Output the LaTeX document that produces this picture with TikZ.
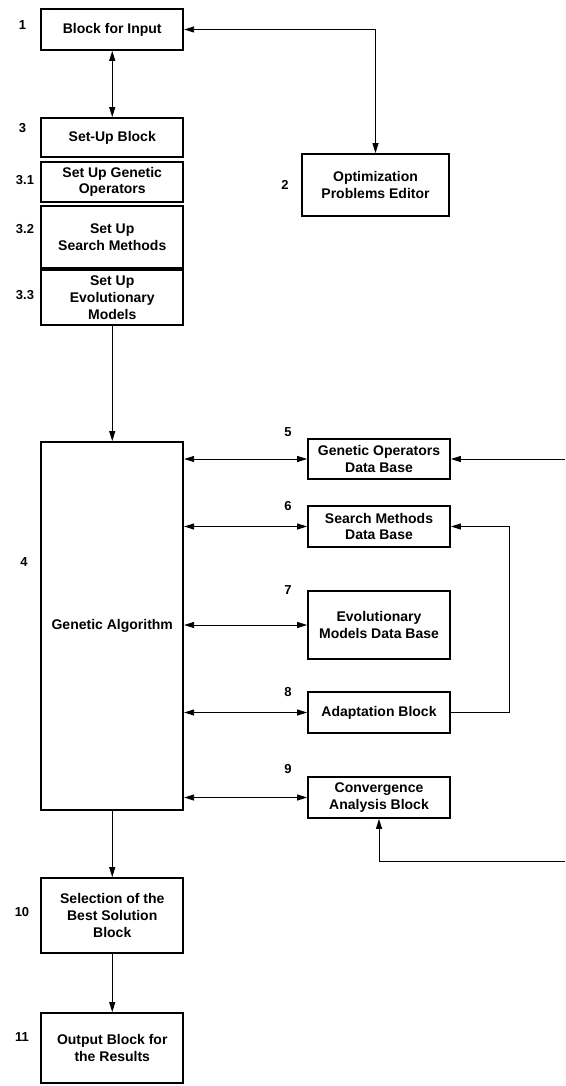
\documentclass[tikz,border=0pt]{standalone}
\usepackage{fontspec}
\setmainfont{Liberation Sans}
\usetikzlibrary{arrows.meta,positioning,calc}
\tikzset{
    block/.style={
        rectangle,                 % plain rectangular block
        draw=black,
        line width=1.8pt,          % heavy frame
        fill=white,
        inner sep=0pt,
        align=center,
        minimum width=142pt,       % every block has the same width
        font=\bfseries\fontsize{14}{16.7}\selectfont
    },
    tag/.style={
        font=\bfseries\fontsize{13}{15}\selectfont,
        inner sep=0pt
    }
}

\begin{document}
\begin{tikzpicture}[
        x=1pt, y=-1pt,
        arrow/.style={-{Triangle[length=10pt,width=6pt]}, line width=0.9pt},
        biarrow/.style={{Triangle[length=10pt,width=6pt]}-{Triangle[length=10pt,width=6pt]}, line width=0.9pt}
    ]
    \useasboundingbox (0,0) rectangle (565,1086);

    % left column
    \node[block, minimum height=41pt] (input) at (112.25,29.5) {Block for Input};
    \node[block, minimum height=39pt] (setup) at (112.25,137.5) {Set-Up Block};
    \node[block, minimum height=40pt] (setgen) at (112.25,182) {Set Up Genetic\\Operators};
    \node[block, minimum height=62pt] (setsearch) at (112.25,237) {Set Up\\Search Methods};
    \node[block, minimum height=55pt] (setevol) at (112.25,297.5) {Set Up\\Evolutionary\\Models};
    \node[block, minimum height=368pt] (ga) at (112.25,626) {Genetic Algorithm};
    \node[block, minimum height=75pt] (select) at (112.25,915.5) {Selection of the\\Best Solution\\Block};
    \node[block, minimum height=70pt] (output) at (112.25,1048) {Output Block for\\the Results};

    % right column
    \node[block, minimum width=147pt, minimum height=62pt] (editor) at (375.5,185) {Optimization\\Problems Editor};
    \node[block, minimum height=40pt] (gobase) at (379,459) {Genetic Operators\\Data Base};
    \node[block, minimum height=41pt] (smbase) at (379,526.5) {Search Methods\\Data Base};
    \node[block, minimum height=68pt] (evbase) at (379,625) {Evolutionary\\Models Data Base};
    \node[block, minimum height=41pt] (adapt) at (379,712.5) {Adaptation Block};
    \node[block, minimum height=41pt] (conv) at (379,797.5) {Convergence\\Analysis Block};

    % numbers
    \node[tag] (lbl1) at (22.5,25) {1};
    \node[tag] (lbl2) at (285,185) {2};
    \node[tag] (lbl3) at (22.5,128) {3};
    \node[tag] (lbl31) at (25,180) {3.1};
    \node[tag] (lbl32) at (25,229) {3.2};
    \node[tag] (lbl33) at (25,295) {3.3};
    \node[tag] (lbl4) at (24,562) {4};
    \node[tag] (lbl5) at (288,432) {5};
    \node[tag] (lbl6) at (288,506) {6};
    \node[tag] (lbl7) at (288,590) {7};
    \node[tag] (lbl8) at (288,692) {8};
    \node[tag] (lbl9) at (288,769) {9};
    \node[tag] (lbl10) at (22,912) {10};
    \node[tag] (lbl11) at (22,1037) {11};

    % inputs coming from outside
    \coordinate (feedtop) at (565,459);
    \coordinate (feedbot) at (565,861);

    \draw[biarrow] (input) -- (setup);
    \draw[biarrow] (input.east) -| (editor.north);
    \draw[arrow] (setevol) -- (ga);
    \draw[biarrow] (ga.east |- gobase) -- (gobase.west);
    \draw[biarrow] (ga.east |- smbase) -- (smbase.west);
    \draw[biarrow] (ga.east |- evbase) -- (evbase.west);
    \draw[biarrow] (ga.east |- adapt) -- (adapt.west);
    \draw[biarrow] (ga.east |- conv) -- (conv.west);
    \draw[arrow] (feedtop) -- (gobase.east);
    \draw[arrow] (adapt.east) -- ++(59,0) |- (smbase.east);
    \draw[arrow] (feedbot) -| (conv.south);
    \draw[arrow] (ga) -- (select);
    \draw[arrow] (select) -- (output);
\end{tikzpicture}
\end{document}
